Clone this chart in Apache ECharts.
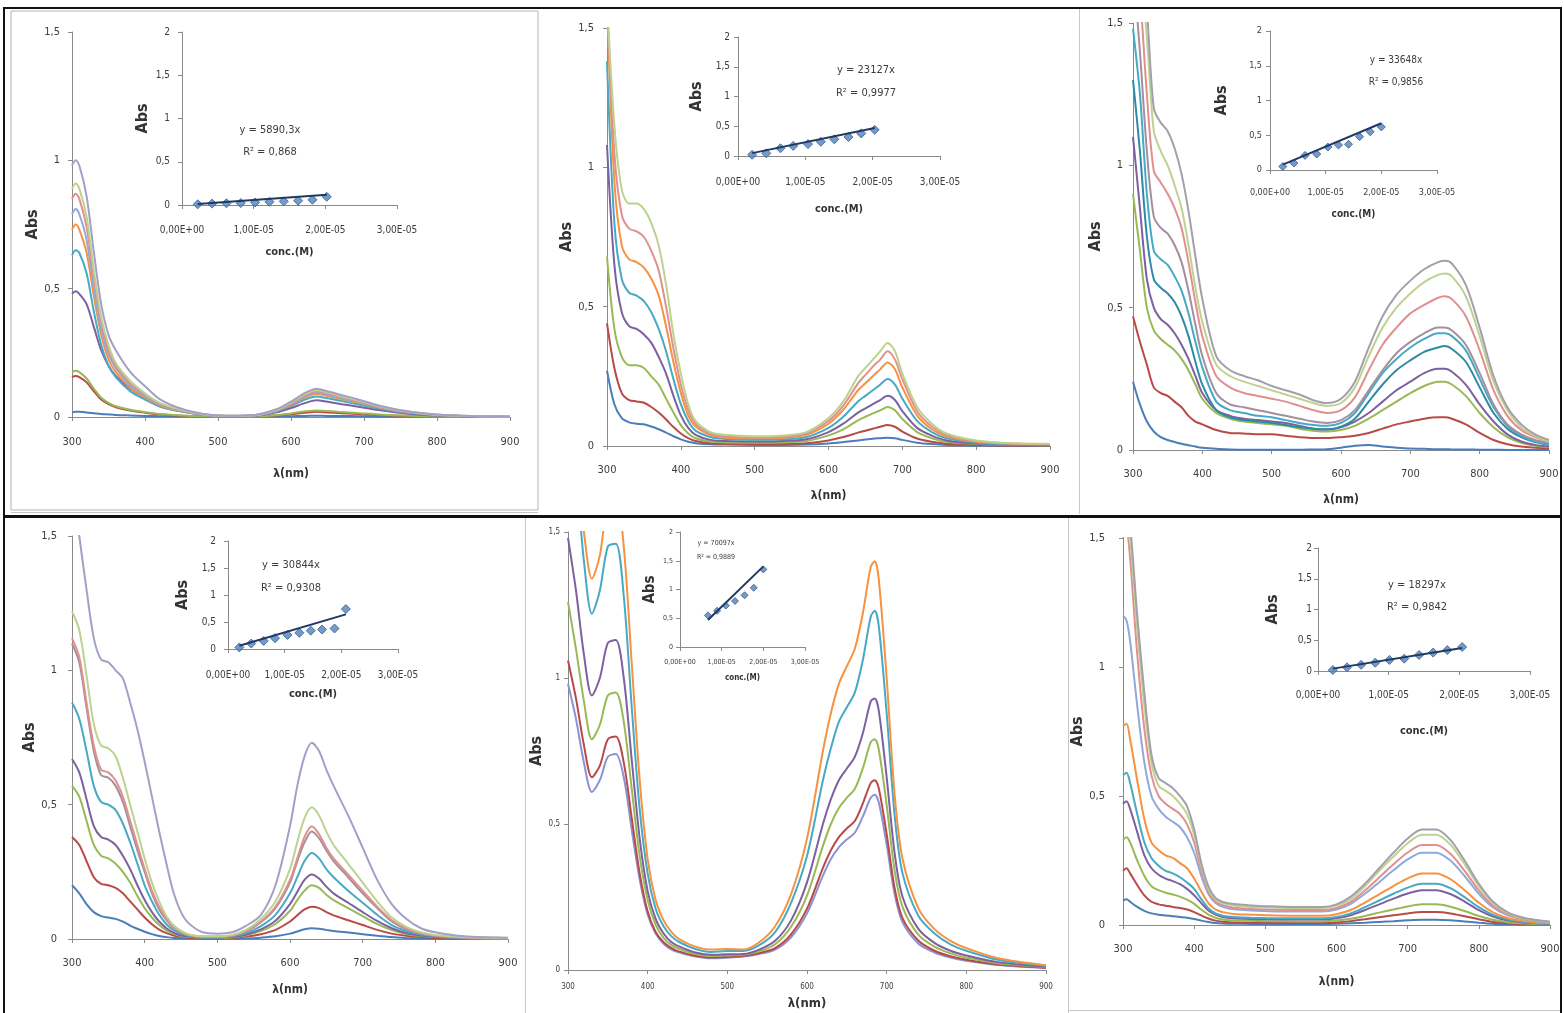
<!DOCTYPE html>
<html>
<head>
<meta charset="utf-8">
<title>UV-Vis absorption spectra and calibration plots</title>
<script src="https://cdn.jsdelivr.net/npm/echarts@6/dist/echarts.min.js"></script>
<style>
  html, body { margin: 0; padding: 0; background: #ffffff; }
  #chart { width: 1564px; height: 1013px; }
</style>
</head>
<body>
<div id="chart"></div>
<script>
// ---------------------------------------------------------------------------
// Spectra: wavelength grid (nm) and absorbance of each dilution, lowest first
// ---------------------------------------------------------------------------

// Panel 1
const wl1 = [300,305,310,320,330,340,350,360,380,400,420,450,480,510,550,580,600,620,635,650,670,690,720,760,800,850,900];
const abs1 = [
  [0.018,0.02,0.02,0.018,0.015,0.012,0.01,0.008,0.006,0.004,0.003,0.002,0.001,0.001,0.001,0.002,0.003,0.004,0.005,0.004,0.004,0.003,0.002,0.001,0.001,0,0],
  [0.155,0.16,0.155,0.135,0.1,0.068,0.05,0.038,0.025,0.017,0.011,0.005,0.003,0.002,0.002,0.006,0.011,0.017,0.02,0.018,0.015,0.012,0.008,0.004,0.002,0.001,0],
  [0.175,0.18,0.175,0.15,0.11,0.075,0.055,0.042,0.028,0.019,0.012,0.006,0.003,0.002,0.002,0.007,0.014,0.022,0.025,0.023,0.019,0.016,0.01,0.005,0.002,0.001,0],
  [0.48,0.49,0.48,0.44,0.35,0.26,0.2,0.16,0.11,0.075,0.045,0.022,0.009,0.004,0.005,0.018,0.035,0.055,0.065,0.059,0.05,0.041,0.027,0.013,0.006,0.002,0.001],
  [0.63,0.65,0.64,0.56,0.41,0.28,0.2,0.155,0.1,0.068,0.041,0.021,0.008,0.004,0.005,0.021,0.043,0.069,0.08,0.073,0.062,0.051,0.033,0.016,0.007,0.003,0.001],
  [0.73,0.75,0.73,0.64,0.47,0.32,0.225,0.175,0.113,0.076,0.046,0.023,0.009,0.004,0.006,0.024,0.048,0.078,0.09,0.082,0.069,0.057,0.037,0.018,0.008,0.003,0.002],
  [0.79,0.81,0.79,0.69,0.5,0.34,0.245,0.19,0.122,0.082,0.05,0.025,0.01,0.004,0.006,0.025,0.051,0.082,0.095,0.087,0.073,0.06,0.039,0.019,0.008,0.003,0.002],
  [0.85,0.87,0.85,0.74,0.54,0.37,0.26,0.2,0.13,0.088,0.053,0.027,0.011,0.005,0.007,0.027,0.054,0.086,0.1,0.092,0.077,0.063,0.041,0.02,0.009,0.004,0.002],
  [0.89,0.91,0.89,0.78,0.57,0.39,0.28,0.21,0.14,0.092,0.055,0.028,0.011,0.005,0.007,0.028,0.057,0.09,0.105,0.096,0.08,0.066,0.043,0.021,0.009,0.004,0.002],
  [0.98,1.0,0.98,0.86,0.64,0.44,0.32,0.26,0.175,0.12,0.07,0.032,0.012,0.005,0.008,0.03,0.06,0.095,0.11,0.1,0.085,0.07,0.045,0.022,0.01,0.004,0.002]
];

// Panel 2
const wl2 = [300,310,320,330,340,350,360,370,380,390,400,410,420,440,460,500,540,570,600,620,640,650,660,670,680,690,700,720,740,760,800,850,900];
const abs2 = [
  [0.27,0.15,0.1,0.085,0.08,0.078,0.07,0.06,0.048,0.035,0.024,0.015,0.01,0.006,0.005,0.004,0.004,0.005,0.009,0.014,0.02,0.023,0.026,0.028,0.03,0.028,0.022,0.012,0.007,0.004,0.002,0.001,0.001],
  [0.44,0.28,0.19,0.165,0.16,0.155,0.14,0.12,0.095,0.068,0.045,0.028,0.018,0.01,0.008,0.007,0.008,0.01,0.02,0.032,0.048,0.055,0.062,0.069,0.075,0.069,0.052,0.027,0.015,0.008,0.004,0.002,0.002],
  [0.68,0.42,0.32,0.29,0.29,0.28,0.25,0.22,0.17,0.12,0.075,0.045,0.028,0.016,0.013,0.012,0.013,0.018,0.038,0.06,0.092,0.105,0.117,0.128,0.14,0.128,0.097,0.05,0.028,0.015,0.007,0.004,0.003],
  [1.08,0.65,0.48,0.43,0.42,0.40,0.37,0.32,0.26,0.18,0.11,0.065,0.04,0.022,0.018,0.016,0.018,0.024,0.05,0.08,0.12,0.135,0.15,0.165,0.18,0.165,0.125,0.065,0.037,0.02,0.009,0.005,0.004],
  [1.38,0.8,0.6,0.55,0.54,0.52,0.48,0.42,0.34,0.24,0.15,0.09,0.055,0.032,0.025,0.022,0.024,0.032,0.065,0.105,0.16,0.18,0.2,0.22,0.24,0.22,0.17,0.09,0.05,0.028,0.012,0.006,0.005],
  [1.6,0.95,0.72,0.67,0.66,0.64,0.6,0.54,0.43,0.3,0.19,0.11,0.07,0.04,0.03,0.028,0.03,0.04,0.08,0.13,0.2,0.225,0.25,0.275,0.3,0.275,0.21,0.11,0.06,0.035,0.015,0.008,0.006],
  [1.6,1.05,0.83,0.78,0.77,0.75,0.7,0.63,0.5,0.35,0.22,0.13,0.08,0.045,0.035,0.03,0.033,0.045,0.09,0.145,0.225,0.255,0.285,0.31,0.34,0.31,0.24,0.125,0.07,0.04,0.018,0.009,0.007],
  [1.6,1.15,0.92,0.87,0.87,0.85,0.8,0.72,0.58,0.4,0.26,0.15,0.09,0.05,0.04,0.035,0.038,0.05,0.1,0.16,0.25,0.28,0.31,0.34,0.37,0.34,0.26,0.14,0.08,0.045,0.02,0.01,0.008]
];

// Panel 3
const wl3 = [300,310,320,330,340,350,360,370,380,390,400,420,440,460,480,500,520,540,560,580,600,620,640,660,680,700,720,740,750,760,780,800,820,840,860,880,900];
const abs3 = [
  [0.24,0.16,0.1,0.065,0.045,0.035,0.028,0.022,0.017,0.012,0.008,0.004,0.002,0.001,0.001,0.001,0.001,0.001,0.002,0.003,0.008,0.015,0.018,0.012,0.008,0.005,0.004,0.003,0.003,0.002,0.002,0.001,0.001,0,0,0,0],
  [0.47,0.38,0.3,0.22,0.2,0.19,0.17,0.15,0.12,0.1,0.09,0.07,0.06,0.058,0.055,0.055,0.05,0.045,0.042,0.042,0.045,0.05,0.06,0.075,0.09,0.1,0.11,0.115,0.115,0.11,0.09,0.06,0.035,0.02,0.012,0.008,0.005],
  [0.9,0.7,0.5,0.42,0.39,0.37,0.35,0.32,0.28,0.23,0.18,0.13,0.11,0.1,0.095,0.09,0.085,0.075,0.068,0.065,0.07,0.085,0.11,0.14,0.17,0.2,0.225,0.24,0.24,0.23,0.19,0.13,0.08,0.045,0.025,0.015,0.01],
  [1.1,0.85,0.6,0.5,0.46,0.44,0.41,0.37,0.32,0.26,0.2,0.14,0.12,0.11,0.105,0.1,0.095,0.085,0.075,0.072,0.08,0.1,0.13,0.17,0.21,0.24,0.27,0.285,0.285,0.275,0.23,0.16,0.1,0.055,0.03,0.018,0.012],
  [1.3,1.05,0.75,0.6,0.57,0.55,0.52,0.47,0.4,0.31,0.23,0.14,0.115,0.105,0.1,0.095,0.088,0.08,0.075,0.073,0.082,0.11,0.17,0.23,0.28,0.315,0.345,0.36,0.365,0.355,0.31,0.22,0.13,0.075,0.045,0.028,0.018],
  [1.48,1.25,0.9,0.7,0.67,0.65,0.61,0.56,0.48,0.38,0.29,0.17,0.14,0.13,0.12,0.115,0.105,0.095,0.088,0.085,0.095,0.13,0.2,0.27,0.32,0.36,0.39,0.41,0.41,0.4,0.35,0.25,0.15,0.085,0.05,0.03,0.02],
  [1.7,1.4,1.05,0.82,0.78,0.76,0.72,0.66,0.56,0.44,0.33,0.2,0.16,0.15,0.14,0.13,0.12,0.11,0.1,0.095,0.105,0.14,0.21,0.28,0.34,0.38,0.41,0.43,0.43,0.42,0.37,0.27,0.16,0.09,0.055,0.035,0.025],
  [1.8,1.6,1.25,0.98,0.94,0.9,0.85,0.78,0.66,0.52,0.4,0.26,0.22,0.2,0.19,0.18,0.17,0.155,0.14,0.13,0.14,0.185,0.28,0.37,0.43,0.48,0.51,0.535,0.54,0.53,0.47,0.35,0.21,0.12,0.07,0.045,0.03],
  [1.8,1.7,1.45,1.12,1.05,1.0,0.93,0.85,0.72,0.57,0.45,0.3,0.26,0.24,0.225,0.21,0.195,0.18,0.165,0.155,0.165,0.22,0.33,0.43,0.5,0.55,0.59,0.615,0.62,0.61,0.54,0.4,0.24,0.14,0.08,0.05,0.03],
  [1.9,1.8,1.55,1.2,1.15,1.12,1.06,0.97,0.84,0.68,0.53,0.33,0.28,0.26,0.245,0.225,0.21,0.195,0.175,0.165,0.18,0.24,0.36,0.47,0.545,0.595,0.635,0.66,0.665,0.655,0.58,0.43,0.26,0.15,0.09,0.055,0.035]
];

// Panel 4
const wl4 = [300,310,320,330,340,350,360,370,380,390,400,410,420,430,440,450,460,480,500,520,540,560,580,600,610,620,630,640,650,660,680,700,720,740,760,780,800,840,900];
const abs4 = [
  [0.2,0.17,0.13,0.1,0.085,0.08,0.075,0.065,0.05,0.038,0.027,0.018,0.011,0.007,0.004,0.003,0.002,0.001,0.001,0.001,0.002,0.005,0.01,0.02,0.028,0.036,0.04,0.038,0.034,0.03,0.024,0.018,0.012,0.007,0.004,0.002,0.001,0.001,0],
  [0.38,0.35,0.29,0.23,0.205,0.2,0.19,0.17,0.14,0.11,0.08,0.055,0.035,0.022,0.013,0.008,0.005,0.003,0.003,0.004,0.009,0.018,0.034,0.065,0.088,0.11,0.12,0.115,0.1,0.088,0.07,0.052,0.034,0.02,0.012,0.007,0.004,0.002,0.001],
  [0.57,0.53,0.44,0.35,0.31,0.3,0.28,0.25,0.21,0.16,0.115,0.08,0.052,0.032,0.019,0.011,0.007,0.004,0.004,0.006,0.014,0.03,0.056,0.105,0.145,0.18,0.2,0.19,0.165,0.145,0.115,0.085,0.056,0.033,0.019,0.011,0.007,0.003,0.001],
  [0.67,0.62,0.52,0.42,0.38,0.37,0.35,0.31,0.26,0.2,0.145,0.1,0.065,0.04,0.024,0.014,0.009,0.005,0.005,0.008,0.017,0.036,0.068,0.13,0.175,0.22,0.24,0.225,0.195,0.17,0.135,0.1,0.067,0.04,0.022,0.013,0.008,0.003,0.002],
  [0.88,0.82,0.7,0.57,0.51,0.5,0.48,0.43,0.36,0.28,0.2,0.14,0.09,0.055,0.033,0.02,0.012,0.006,0.006,0.01,0.022,0.048,0.09,0.17,0.23,0.29,0.32,0.3,0.26,0.23,0.18,0.135,0.09,0.052,0.03,0.017,0.01,0.004,0.002],
  [1.1,1.03,0.86,0.7,0.61,0.6,0.57,0.51,0.42,0.33,0.25,0.17,0.11,0.07,0.042,0.025,0.015,0.008,0.008,0.012,0.028,0.062,0.115,0.21,0.29,0.36,0.4,0.375,0.33,0.29,0.23,0.17,0.115,0.065,0.037,0.02,0.012,0.005,0.003],
  [1.12,1.05,0.88,0.72,0.63,0.62,0.59,0.53,0.44,0.35,0.26,0.18,0.12,0.075,0.045,0.027,0.016,0.009,0.008,0.013,0.03,0.065,0.12,0.22,0.3,0.38,0.42,0.39,0.34,0.3,0.24,0.18,0.12,0.07,0.04,0.022,0.013,0.006,0.003],
  [1.22,1.15,0.98,0.8,0.72,0.71,0.68,0.6,0.5,0.4,0.3,0.21,0.14,0.085,0.05,0.03,0.018,0.01,0.01,0.015,0.035,0.075,0.14,0.26,0.36,0.45,0.49,0.46,0.4,0.35,0.28,0.21,0.14,0.08,0.045,0.025,0.015,0.007,0.003],
  [1.7,1.5,1.3,1.12,1.04,1.03,1.0,0.97,0.88,0.78,0.66,0.53,0.4,0.28,0.17,0.1,0.06,0.025,0.02,0.025,0.05,0.09,0.2,0.42,0.57,0.68,0.73,0.7,0.63,0.57,0.46,0.34,0.22,0.13,0.075,0.04,0.025,0.01,0.005]
];

// Panel 5
const wl5 = [300,310,320,330,340,350,360,370,380,390,400,410,420,430,440,460,480,500,520,540,560,580,600,620,630,640,650,660,670,680,685,690,700,710,720,740,760,780,800,840,900];
const abs5 = [
  [0.98,0.86,0.71,0.61,0.65,0.73,0.74,0.66,0.48,0.31,0.19,0.125,0.09,0.07,0.06,0.046,0.04,0.042,0.046,0.055,0.07,0.112,0.194,0.323,0.38,0.42,0.447,0.47,0.525,0.59,0.6,0.575,0.43,0.26,0.163,0.09,0.06,0.043,0.032,0.017,0.007],
  [1.06,0.93,0.77,0.66,0.7,0.79,0.8,0.71,0.52,0.33,0.2,0.13,0.095,0.075,0.063,0.049,0.043,0.045,0.048,0.058,0.075,0.122,0.21,0.35,0.41,0.455,0.485,0.51,0.57,0.64,0.65,0.623,0.465,0.28,0.177,0.1,0.066,0.047,0.035,0.019,0.008],
  [1.26,1.1,0.92,0.79,0.84,0.94,0.95,0.85,0.62,0.39,0.24,0.155,0.11,0.085,0.072,0.055,0.048,0.05,0.052,0.064,0.088,0.148,0.255,0.425,0.5,0.555,0.59,0.62,0.69,0.78,0.79,0.757,0.565,0.34,0.215,0.12,0.08,0.057,0.043,0.023,0.01],
  [1.48,1.3,1.08,0.94,1.0,1.12,1.13,1.0,0.72,0.45,0.27,0.175,0.125,0.095,0.08,0.06,0.052,0.054,0.055,0.07,0.1,0.17,0.3,0.5,0.585,0.65,0.69,0.73,0.81,0.92,0.93,0.89,0.66,0.4,0.25,0.14,0.093,0.066,0.05,0.027,0.011],
  [1.9,1.7,1.4,1.22,1.3,1.45,1.46,1.28,0.9,0.55,0.33,0.21,0.15,0.115,0.095,0.072,0.062,0.065,0.065,0.085,0.13,0.23,0.39,0.65,0.76,0.85,0.9,0.95,1.06,1.21,1.23,1.18,0.88,0.53,0.33,0.185,0.125,0.088,0.066,0.035,0.014],
  [2.0,1.75,1.5,1.34,1.42,1.6,1.62,1.45,1.05,0.65,0.38,0.24,0.17,0.13,0.105,0.08,0.07,0.072,0.07,0.095,0.15,0.26,0.45,0.75,0.88,0.98,1.04,1.1,1.22,1.38,1.4,1.34,1.0,0.6,0.38,0.21,0.14,0.1,0.075,0.04,0.016]
];

// Panel 6
const wl6 = [300,305,310,320,330,340,350,360,370,380,390,400,410,420,430,440,450,460,480,500,540,580,600,620,640,660,680,700,720,740,760,780,800,820,840,860,880,900];
const abs6 = [
  [0.095,0.1,0.09,0.07,0.055,0.045,0.04,0.037,0.034,0.031,0.028,0.023,0.017,0.012,0.008,0.006,0.005,0.005,0.004,0.004,0.004,0.004,0.005,0.007,0.009,0.012,0.015,0.018,0.02,0.02,0.018,0.014,0.009,0.005,0.003,0.002,0.001,0.001],
  [0.21,0.22,0.2,0.155,0.115,0.09,0.08,0.075,0.07,0.066,0.06,0.05,0.037,0.025,0.017,0.013,0.011,0.01,0.009,0.009,0.008,0.008,0.01,0.015,0.022,0.03,0.038,0.045,0.05,0.05,0.045,0.034,0.022,0.012,0.007,0.004,0.003,0.002],
  [0.33,0.34,0.32,0.25,0.19,0.15,0.135,0.125,0.118,0.11,0.098,0.082,0.06,0.04,0.028,0.021,0.018,0.017,0.016,0.015,0.014,0.014,0.017,0.024,0.035,0.048,0.06,0.072,0.08,0.08,0.071,0.054,0.035,0.02,0.011,0.007,0.004,0.003],
  [0.47,0.48,0.45,0.36,0.27,0.22,0.195,0.18,0.17,0.158,0.14,0.115,0.085,0.056,0.04,0.031,0.027,0.025,0.023,0.022,0.021,0.021,0.026,0.038,0.058,0.08,0.102,0.122,0.135,0.135,0.12,0.091,0.058,0.033,0.018,0.011,0.007,0.004],
  [0.58,0.59,0.55,0.43,0.32,0.26,0.23,0.21,0.2,0.185,0.165,0.14,0.1,0.065,0.045,0.036,0.032,0.03,0.028,0.027,0.026,0.026,0.031,0.045,0.069,0.095,0.121,0.145,0.16,0.16,0.143,0.108,0.069,0.039,0.022,0.013,0.008,0.005],
  [0.77,0.78,0.72,0.56,0.41,0.32,0.29,0.27,0.26,0.24,0.22,0.18,0.13,0.085,0.06,0.05,0.045,0.042,0.04,0.038,0.036,0.036,0.042,0.058,0.087,0.119,0.151,0.181,0.2,0.2,0.178,0.135,0.086,0.049,0.027,0.016,0.01,0.007],
  [1.2,1.18,1.1,0.85,0.63,0.5,0.45,0.42,0.4,0.38,0.34,0.28,0.19,0.12,0.085,0.07,0.063,0.06,0.056,0.054,0.052,0.052,0.06,0.082,0.121,0.166,0.212,0.254,0.28,0.28,0.25,0.19,0.121,0.068,0.038,0.023,0.014,0.01],
  [1.5,1.52,1.42,1.05,0.76,0.58,0.5,0.47,0.45,0.43,0.39,0.32,0.21,0.13,0.09,0.077,0.07,0.066,0.062,0.06,0.058,0.058,0.066,0.09,0.134,0.184,0.235,0.281,0.31,0.31,0.276,0.21,0.134,0.075,0.042,0.025,0.016,0.011],
  [1.55,1.58,1.5,1.15,0.85,0.63,0.54,0.52,0.5,0.47,0.43,0.35,0.23,0.14,0.1,0.085,0.078,0.074,0.07,0.068,0.066,0.066,0.075,0.1,0.15,0.21,0.265,0.317,0.35,0.35,0.312,0.236,0.151,0.085,0.047,0.028,0.018,0.012],
  [1.6,1.62,1.55,1.2,0.9,0.66,0.57,0.55,0.53,0.5,0.46,0.37,0.24,0.15,0.105,0.09,0.083,0.08,0.076,0.073,0.07,0.07,0.08,0.11,0.16,0.22,0.28,0.335,0.37,0.37,0.33,0.25,0.16,0.09,0.05,0.03,0.019,0.013]
];

// ---------------------------------------------------------------------------
// Calibration insets: concentration (M), absorbance at the band maximum,
// slope of the linear fit through the origin and the printed fit statistics
// ---------------------------------------------------------------------------
const conc1 = [2.2e-6,4.2e-6,6.2e-6,8.2e-6,1.02e-5,1.22e-5,1.42e-5,1.62e-5,1.82e-5,2.02e-5];
const cal1 = [0.008,0.016,0.02,0.022,0.03,0.037,0.042,0.05,0.06,0.095];
const slope1 = 5890.3;
const fit1 = ['y = 5890,3x', 'R\u00b2 = 0,868'];

const conc2 = [2.1e-6,4.2e-6,6.3e-6,8.2e-6,1.04e-5,1.23e-5,1.43e-5,1.64e-5,1.83e-5,2.03e-5];
const cal2 = [0.02,0.045,0.13,0.17,0.2,0.24,0.28,0.32,0.38,0.44];
const slope2 = 23127;
const fit2 = ['y = 23127x', 'R\u00b2 = 0,9977'];

const conc3 = [2.3e-6,4.3e-6,6.3e-6,8.4e-6,1.04e-5,1.23e-5,1.41e-5,1.61e-5,1.8e-5,2.0e-5];
const cal3 = [0.05,0.1,0.21,0.23,0.33,0.36,0.37,0.48,0.55,0.62];
const slope3 = 33648;
const fit3 = ['y = 33648x', 'R\u00b2 = 0,9856'];

const conc4 = [2.0e-6,4.1e-6,6.3e-6,8.3e-6,1.05e-5,1.26e-5,1.46e-5,1.66e-5,1.88e-5,2.08e-5];
const cal4 = [0.03,0.1,0.15,0.2,0.26,0.3,0.34,0.36,0.38,0.74];
const slope4 = 30844;
const fit4 = ['y = 30844x', 'R\u00b2 = 0,9308'];

const conc5 = [6.7e-6,8.9e-6,1.1e-5,1.32e-5,1.55e-5,1.77e-5,2.0e-5];
const cal5 = [0.55,0.63,0.72,0.8,0.9,1.03,1.35];
const slope5 = 70097;
const fit5 = ['y = 70097x', 'R\u00b2 = 0,9889'];

const conc6 = [2.1e-6,4.1e-6,6.1e-6,8.1e-6,1.01e-5,1.22e-5,1.43e-5,1.63e-5,1.83e-5,2.04e-5];
const cal6 = [0.016,0.06,0.1,0.135,0.18,0.2,0.26,0.3,0.34,0.39];
const slope6 = 18297;
const fit6 = ['y = 18297x', 'R\u00b2 = 0,9842'];

// ---------------------------------------------------------------------------
// Styling and layout
// ---------------------------------------------------------------------------
const FONT = "'Liberation Sans Narrow', 'DejaVu Sans Condensed', 'Liberation Sans', sans-serif";
const C = {
  blue: '#4a7ebb', red: '#b84a47', green: '#98b954', purple: '#7d60a0',
  aqua: '#46aac5', teal: '#2e8aa6', orange: '#f69240', lightBlue: '#8fa9dc',
  salmon: '#e0908e', lightGreen: '#bcd38f', lavender: '#a3a0c8', mauve: '#a48f9c',
  grey: '#a39fab', periwinkle: '#8a93d4'
};

const panels = [
  { wl: wl1, abs: abs1,
    colors: [C.blue, C.red, C.green, C.purple, C.aqua, C.orange, C.lightBlue, C.salmon, C.lightGreen, C.lavender],
    main: { left: 72, top: 32, width: 438, height: 385, tick: 11, yMargin: 12, xMargin: 20, xNameGap: 51, yNameGap: 31, xNameSize: 12 },
    cal: { conc: conc1, abs: cal1, slope: slope1, fit: fit1 },
    inset: { left: 182, top: 32, width: 215, height: 173, tick: 10, yMargin: 12, xMargin: 20, xNameGap: 42, yNameGap: 31, xNameSize: 11, yNameSize: 16, symbol: 9 },
    eq: { x: 270, y: 130, dy: 22, size: 11 } },
  { wl: wl2, abs: abs2,
    colors: [C.blue, C.red, C.green, C.purple, C.aqua, C.orange, C.salmon, C.lightGreen],
    main: { left: 607, top: 28, width: 443, height: 418, tick: 11, yMargin: 13, xMargin: 19, xNameGap: 44, yNameGap: 27, xNameSize: 12 },
    cal: { conc: conc2, abs: cal2, slope: slope2, fit: fit2 },
    inset: { left: 738, top: 37, width: 202, height: 119, tick: 10, yMargin: 8, xMargin: 21, xNameGap: 48, yNameGap: 33, xNameSize: 11, yNameSize: 16, symbol: 9 },
    eq: { x: 866, y: 70, dy: 23, size: 11 } },
  { wl: wl3, abs: abs3,
    colors: [C.blue, C.red, C.green, C.purple, C.teal, C.aqua, C.mauve, C.salmon, C.lightGreen, C.grey],
    main: { left: 1133, top: 23, width: 416, height: 427, tick: 11, yMargin: 10, xMargin: 19, xNameGap: 44, yNameGap: 22, xNameSize: 12 },
    cal: { conc: conc3, abs: cal3, slope: slope3, fit: fit3 },
    inset: { left: 1270, top: 31, width: 167, height: 139, tick: 9, yMargin: 8, xMargin: 18, xNameGap: 39, yNameGap: 40, xNameSize: 10, yNameSize: 16, symbol: 8 },
    eq: { x: 1396, y: 60, dy: 22, size: 10 } },
  { wl: wl4, abs: abs4,
    colors: [C.blue, C.red, C.green, C.purple, C.aqua, C.mauve, C.salmon, C.lightGreen, C.lavender],
    main: { left: 72, top: 536, width: 436, height: 403, tick: 11, yMargin: 15, xMargin: 19, xNameGap: 45, yNameGap: 34, xNameSize: 12 },
    cal: { conc: conc4, abs: cal4, slope: slope4, fit: fit4 },
    inset: { left: 228, top: 541, width: 170, height: 108, tick: 10, yMargin: 12, xMargin: 21, xNameGap: 40, yNameGap: 37, xNameSize: 11, yNameSize: 16, symbol: 9 },
    eq: { x: 291, y: 565, dy: 23, size: 11 } },
  { wl: wl5, abs: abs5,
    colors: [C.periwinkle, C.red, C.green, C.purple, C.aqua, C.orange],
    main: { left: 568, top: 532, width: 478, height: 438, tick: 8, yMargin: 8, xMargin: 13, xNameGap: 27, yNameGap: 15, xNameSize: 13 },
    cal: { conc: conc5, abs: cal5, slope: slope5, fit: fit5 },
    inset: { left: 680, top: 532, width: 125, height: 115, tick: 7, yMargin: 7, xMargin: 12, xNameGap: 27, yNameGap: 22, xNameSize: 8, yNameSize: 15, symbol: 7 },
    eq: { x: 716, y: 543, dy: 14, size: 7 } },
  { wl: wl6, abs: abs6,
    colors: [C.blue, C.red, C.green, C.purple, C.aqua, C.orange, C.lightBlue, C.salmon, C.lightGreen, C.grey],
    main: { left: 1123, top: 538, width: 427, height: 387, tick: 11, yMargin: 18, xMargin: 19, xNameGap: 51, yNameGap: 32, xNameSize: 12 },
    cal: { conc: conc6, abs: cal6, slope: slope6, fit: fit6 },
    inset: { left: 1318, top: 548, width: 212, height: 123, tick: 10, yMargin: 6, xMargin: 19, xNameGap: 55, yNameGap: 37, xNameSize: 11, yNameSize: 16, symbol: 9 },
    eq: { x: 1417, y: 585, dy: 22, size: 11 } }
];

const AXIS_LINE = '#8a8a8a';
const LABEL = '#3c3c3c';

function commaNum(v) {
  return String(+v.toFixed(2)).replace('.', ',');
}
function sciLabel(v) {
  const parts = v.toExponential(2).split('e');
  const sign = parts[1][0] === '-' ? '-' : '+';
  const digits = parts[1].replace(/^[+-]/, '').padStart(2, '0');
  return parts[0].replace('.', ',') + 'E' + sign + digits;
}

function valueAxis(gridIndex, min, max, interval, fmt, s, name, isX, nameSize) {
  return {
    type: 'value', gridIndex, min, max, interval,
    axisLine: { show: true, onZero: false, lineStyle: { color: AXIS_LINE, width: 1 } },
    axisTick: { show: true, length: 4, lineStyle: { color: AXIS_LINE } },
    splitLine: { show: false },
    axisLabel: { formatter: fmt, fontSize: s.tick, color: LABEL, fontFamily: FONT,
                 margin: isX ? s.xMargin : s.yMargin, showMinLabel: true, showMaxLabel: true },
    name, nameLocation: 'middle', nameRotate: isX ? 0 : 90,
    nameGap: isX ? s.xNameGap : s.yNameGap,
    nameTextStyle: { fontSize: nameSize, fontWeight: 'bold', color: '#333333', fontFamily: FONT }
  };
}

const grids = [], xAxes = [], yAxes = [], series = [], graphics = [];

panels.forEach((p) => {
  // spectra
  const gi = grids.length;
  grids.push({ left: p.main.left, top: p.main.top, width: p.main.width, height: p.main.height, containLabel: false, outerBoundsMode: 'none' });
  xAxes.push(valueAxis(gi, 300, 900, 100, (v) => String(v), p.main, '\u03bb(nm)', true, p.main.xNameSize));
  yAxes.push(valueAxis(gi, 0, 1.5, 0.5, commaNum, p.main, 'Abs', false, 16));
  p.abs.forEach((row, j) => {
    series.push({
      type: 'line', xAxisIndex: gi, yAxisIndex: gi,
      data: p.wl.map((w, i) => [w, row[i]]),
      showSymbol: false, smooth: 0.3, clip: true, silent: true,
      lineStyle: { width: 2, color: p.colors[j] }, itemStyle: { color: p.colors[j] },
      z: 2 + j
    });
  });

  // calibration inset
  const ii = grids.length;
  grids.push({ left: p.inset.left, top: p.inset.top, width: p.inset.width, height: p.inset.height, containLabel: false, outerBoundsMode: 'none' });
  xAxes.push(valueAxis(ii, 0, 3e-5, 1e-5, sciLabel, p.inset, 'conc.(M)', true, p.inset.xNameSize));
  yAxes.push(valueAxis(ii, 0, 2, 0.5, commaNum, p.inset, 'Abs', false, p.inset.yNameSize));
  series.push({
    type: 'scatter', xAxisIndex: ii, yAxisIndex: ii,
    data: p.cal.conc.map((c, i) => [c, p.cal.abs[i]]),
    symbol: 'diamond', symbolSize: p.inset.symbol, silent: true,
    itemStyle: { color: '#4f81bd', borderColor: '#385d8a', borderWidth: 1 },
    z: 20
  });
  const c0 = Math.min(...p.cal.conc), c1 = Math.max(...p.cal.conc);
  series.push({
    type: 'line', xAxisIndex: ii, yAxisIndex: ii,
    data: [[c0, p.cal.slope * c0], [c1, p.cal.slope * c1]],
    showSymbol: false, silent: true,
    lineStyle: { width: 2, color: '#1f3864' },
    z: 21
  });
  p.cal.fit.forEach((txt, k) => {
    graphics.push({
      type: 'text', silent: true, z: 30,
      style: { text: txt, x: p.eq.x, y: p.eq.y + k * p.eq.dy, fill: LABEL,
               font: p.eq.size + 'px ' + FONT,
               align: 'center', verticalAlign: 'middle', textAlign: 'center', textVerticalAlign: 'middle' }
    });
  });
});

// Figure frames
graphics.push(
  { type: 'rect', silent: true, z: 1, shape: { x: 4, y: 8, width: 1557, height: 1015 }, style: { fill: 'none', stroke: '#111111', lineWidth: 2 } },
  { type: 'rect', silent: true, z: 1, shape: { x: 11, y: 11, width: 527, height: 499 }, style: { fill: 'none', stroke: '#b4b4b4', lineWidth: 1 } },
  { type: 'line', silent: true, z: 1, shape: { x1: 11, y1: 512.5, x2: 538, y2: 512.5 }, style: { stroke: '#c4c4c4', lineWidth: 1 } },
  { type: 'line', silent: true, z: 1, shape: { x1: 1079.5, y1: 9, x2: 1079.5, y2: 514 }, style: { stroke: '#c8c8c8', lineWidth: 1 } },
  { type: 'line', silent: true, z: 1, shape: { x1: 4, y1: 516.5, x2: 1561, y2: 516.5 }, style: { stroke: '#111111', lineWidth: 3 } },
  { type: 'line', silent: true, z: 1, shape: { x1: 525.5, y1: 518, x2: 525.5, y2: 1013 }, style: { stroke: '#c8c8c8', lineWidth: 1 } },
  { type: 'line', silent: true, z: 1, shape: { x1: 1068.5, y1: 518, x2: 1068.5, y2: 1013 }, style: { stroke: '#c8c8c8', lineWidth: 1 } },
  { type: 'line', silent: true, z: 1, shape: { x1: 1069, y1: 1010.5, x2: 1560, y2: 1010.5 }, style: { stroke: '#c8c8c8', lineWidth: 1 } }
);

const chart = echarts.init(document.getElementById('chart'), null, { renderer: 'canvas' });
chart.setOption({
  backgroundColor: '#ffffff',
  animation: false,
  grid: grids,
  xAxis: xAxes,
  yAxis: yAxes,
  series: series,
  graphic: { elements: graphics }
});
</script>
</body>
</html>
